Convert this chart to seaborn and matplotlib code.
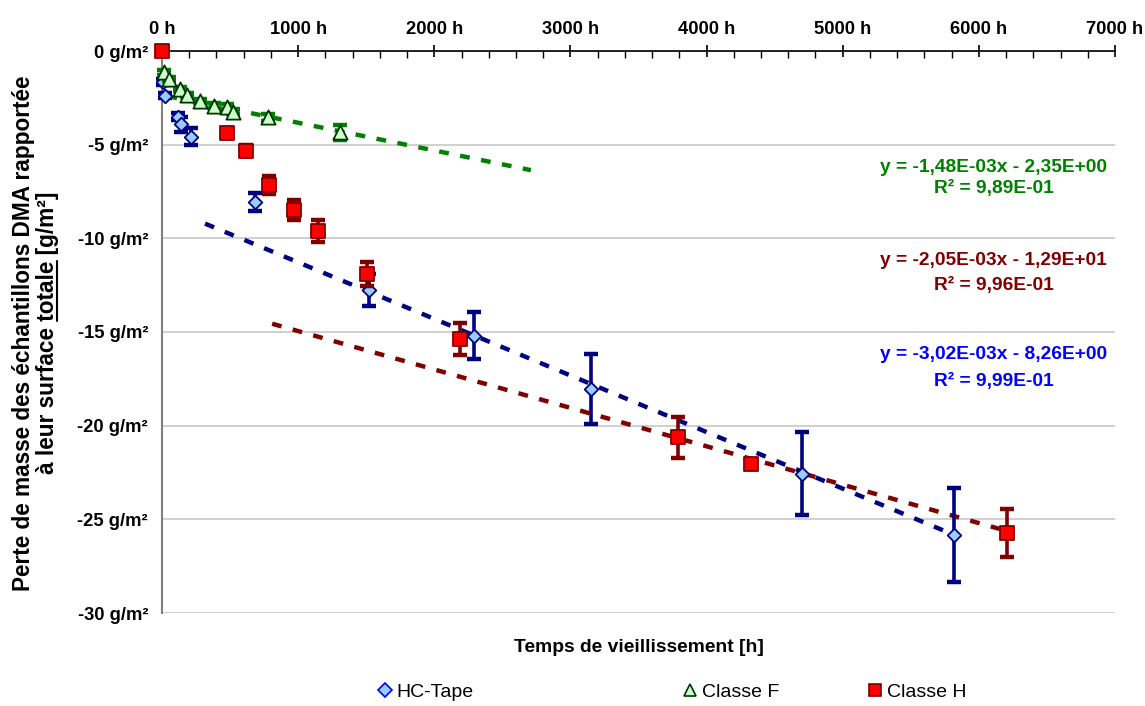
import numpy as np
import pandas as pd
import matplotlib
matplotlib.use("Agg")
import matplotlib.pyplot as plt
import seaborn as sns
from matplotlib.ticker import MultipleLocator, FuncFormatter
from matplotlib.lines import Line2D

# ---------------- data ----------------
hc_x = [5, 25, 115, 140, 211, 684, 1524, 2289, 3152, 4699, 5819]
hc_y = [-1.67, -2.38, -3.50, -3.91, -4.57, -8.04, -12.78, -15.20, -18.04, -22.56, -25.83]
hc_err = [0.15, 0.15, 0.20, 0.40, 0.46, 0.48, 0.85, 1.26, 1.86, 2.20, 2.50]

f_x = [15, 51, 132, 186, 279, 382, 475, 524, 782, 1309]
f_y = [-1.14, -1.49, -2.03, -2.35, -2.67, -2.92, -2.97, -3.23, -3.54, -4.35]
f_err = [0.15, 0.12, 0.12, 0.12, 0.12, 0.12, 0.15, 0.15, 0.20, 0.38]

h_x = [0, 480, 618, 789, 973, 1145, 1505, 2191, 3792, 4324, 6206]
h_y = [0, -4.36, -5.33, -7.15, -8.48, -9.60, -11.91, -15.38, -20.62, -22.04, -25.73]
h_err = [0, 0.22, 0.30, 0.49, 0.53, 0.60, 0.65, 0.85, 1.09, 0.10, 1.30]

series_names = ["HC-Tape", "Classe F", "Classe H"]
trend_slope = [-3.02e-3, -1.48e-3, -2.05e-3]
trend_intercept = [-8.26, -2.35, -12.9]
trend_start = [316, 40, 809]
trend_end = [5760, 2710, 6150]
trend_eq = ["y = -3,02E-03x - 8,26E+00", "y = -1,48E-03x - 2,35E+00", "y = -2,05E-03x - 1,29E+01"]
trend_r2 = ["R² = 9,99E-01", "R² = 9,89E-01", "R² = 9,96E-01"]
eq_y = [-16.2, -6.23, -11.2]
r2_y = [-17.65, -7.35, -12.52]

x_ticks = [0, 1000, 2000, 3000, 4000, 5000, 6000, 7000]
y_ticks = [0, -5, -10, -15, -20, -25, -30]

# ---------------- style ----------------
sns.set_style("white")
plt.rcParams['font.family'] = ['Liberation Sans', 'DejaVu Sans']
plt.rcParams['text.color'] = 'black'
plt.rcParams['axes.labelcolor'] = 'black'
plt.rcParams['xtick.color'] = 'black'
plt.rcParams['ytick.color'] = 'black'

line_col = ["#000080", "#008000", "#800000"]
eq_col = ["#0000FF", "#008000", "#800000"]
face_col = ["#99CCFF", "#CCFFCC", "#FF0000"]
edge_col = ["#000080", "#003300", "#800000"]
markers = ["D", "^", "s"]
msize = [48, 105, 105]

W, H = 1145, 706
fig = plt.figure(figsize=(W / 100, H / 100), dpi=100)
L, R, T, B = 162, 1115, 51, 613
ax = fig.add_axes([L / W, 1 - B / H, (R - L) / W, (B - T) / H])

xs = [hc_x, f_x, h_x]
ys = [hc_y, f_y, h_y]
errs = [hc_err, f_err, h_err]

# trend lines
for i in range(3):
    tx = np.array([trend_start[i], trend_end[i]], dtype=float)
    ty = trend_slope[i] * tx + trend_intercept[i]
    tdf = pd.DataFrame({"x": tx, "y": ty})
    sns.lineplot(data=tdf, x="x", y="y", ax=ax, color=line_col[i], lw=3.2,
                 linestyle=(0, (2.2, 2.6)), zorder=2, legend=False)

# error bars + markers
for i in range(3):
    ax.errorbar(xs[i], ys[i], yerr=errs[i], fmt="none", ecolor=line_col[i],
                elinewidth=2.6, capsize=5, capthick=3.2, zorder=3 + i, clip_on=False)
    df = pd.DataFrame({"x": xs[i], "y": ys[i]})
    sns.scatterplot(data=df, x="x", y="y", ax=ax, marker=markers[i], s=msize[i],
                    color=face_col[i], edgecolor=edge_col[i], linewidth=1.3,
                    zorder=3.5 + i, clip_on=False, legend=False)

# equations
for i in range(3):
    ax.text(6110, eq_y[i], trend_eq[i], color=eq_col[i], fontsize=13.8,
            fontweight="bold", ha="center", va="center")
    ax.text(6110, r2_y[i], trend_r2[i], color=eq_col[i], fontsize=13.8,
            fontweight="bold", ha="center", va="center")

# axes
ax.set_xlim(0, 7000)
ax.set_ylim(-30, 0)
ax.set_xticks(x_ticks)
ax.set_yticks(y_ticks)
ax.xaxis.set_minor_locator(MultipleLocator(200))
ax.xaxis.tick_top()
ax.xaxis.set_major_formatter(FuncFormatter(lambda v, p: f"{int(round(v))} h"))
ax.yaxis.set_major_formatter(FuncFormatter(lambda v, p: f"{int(round(v))} g/m²"))
for lab in ax.get_xticklabels() + ax.get_yticklabels():
    lab.set_fontweight("bold")
    lab.set_color("black")
ax.tick_params(axis="x", which="major", direction="inout", length=9, width=1.2,
               colors="#000000", labelsize=13.2, pad=5, top=True, bottom=False)
ax.tick_params(axis="x", which="minor", direction="in", length=5, width=1.0,
               colors="#000000", top=True, bottom=False)
ax.tick_params(axis="y", which="major", direction="inout", length=8, width=1.0,
               colors="#000000", labelsize=13.2, pad=6)
ax.grid(axis="y", color="#C8C8C8", lw=1.2)
ax.set_axisbelow(True)
ax.spines["right"].set_visible(False)
ax.spines["bottom"].set_visible(False)
ax.spines["left"].set_color("#808080")
ax.spines["left"].set_linewidth(1.5)
ax.spines["top"].set_color("#000000")
ax.spines["top"].set_linewidth(1.2)
ax.set_xlabel("")
ax.set_ylabel("")

# x label
fig.text((L + R) / 2 / W, 1 - 647 / H, "Temps de vieillissement [h]", fontsize=13.9,
         fontweight="bold", ha="center", va="center", color="black")

# y label (two lines, 'totale' underlined)
yc = 1 - 333 / H
line1 = "Perte de masse des échantillons DMA rapportée"
line2 = "à leur surface totale [g/m²]"
fig.text(24 / W, yc, line1, rotation=90, fontsize=16.3, fontweight="bold",
         ha="center", va="center", color="black")
t2 = fig.text(48 / W, yc, line2, rotation=90, fontsize=16.3, fontweight="bold",
              ha="center", va="center", color="black")
fig.canvas.draw()
rend = fig.canvas.get_renderer()
prop = t2.get_fontproperties()
w_pre, _, _ = rend.get_text_width_height_descent("à leur surface totale", prop, ismath=False)
w_tot, _, _ = rend.get_text_width_height_descent("totale", prop, ismath=False)
_, _, desc = rend.get_text_width_height_descent(line2, prop, ismath=False)
bb = t2.get_window_extent(rend)
y0 = bb.y0 + (w_pre - w_tot)
y1 = bb.y0 + w_pre
xu = bb.x1 - desc + 2.0
fig.add_artist(Line2D([xu / W, xu / W], [y0 / H, y1 / H], color="black", lw=1.5,
                      transform=fig.transFigure))

# legend (three separate entries)
leg_x = [385, 690, 875]
for i in range(3):
    h = Line2D([], [], linestyle="none", marker=markers[i], markersize=[6.8, 9.0, 9.0][i],
               markerfacecolor=face_col[i], markeredgecolor=["#0000FF", "#003300", "#800000"][i],
               markeredgewidth=1.2)
    lg = fig.legend([h], [series_names[i]], loc="center left",
                    bbox_to_anchor=((leg_x[i] - 7.8) / W, 1 - 692 / H),
                    frameon=False, fontsize=14, handlelength=0.8, handletextpad=0.2,
                    borderpad=0, borderaxespad=0)
    for t in lg.get_texts():
        t.set_color("black")

fig.savefig("out.png", dpi=100)
